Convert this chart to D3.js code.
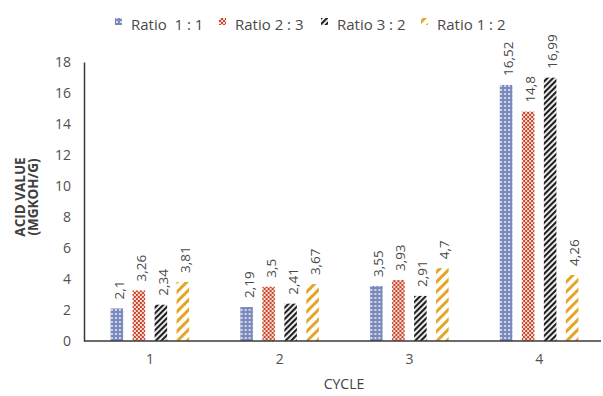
<!DOCTYPE html>
<html>
<head>
<meta charset="utf-8">
<script src="https://cdn.jsdelivr.net/npm/d3@7"></script>
<style>
  html, body { margin: 0; padding: 0; background: #fff; }
  svg { display: block; font-family: "Open Sans", sans-serif; }
</style>
</head>
<body>
<svg id="chart" width="603" height="396"></svg>
<script>
// Acid value per cycle for four blend ratios
const cycles = ["1", "2", "3", "4"];
const seriesNames = ["Ratio  1 : 1", "Ratio 2 : 3", "Ratio 3 : 2", "Ratio 1 : 2"];
const ratio11 = [2.1, 2.19, 3.55, 16.52];
const ratio23 = [3.26, 3.5, 3.93, 14.8];
const ratio32 = [2.34, 2.41, 2.91, 16.99];
const ratio12 = [3.81, 3.67, 4.7, 4.26];
const yTicks = [0, 2, 4, 6, 8, 10, 12, 14, 16, 18];

const series = [ratio11, ratio23, ratio32, ratio12];
const patternIds = ["pGrid", "pCheck", "pStripeDark", "pStripeGold"];
const FONT = "'Open Sans', sans-serif";

const svg = d3.select("#chart");
const defs = svg.append("defs");

// blue grid fill
{
  const p = defs.append("pattern").attr("id", "pGrid").attr("patternUnits", "userSpaceOnUse")
    .attr("width", 4).attr("height", 4);
  p.append("rect").attr("width", 4).attr("height", 4).attr("fill", "#7a88bb");
  p.append("rect").attr("x", 1).attr("y", 1).attr("width", 2).attr("height", 2).attr("fill", "#d3d8ea");
}
// red checker fill
{
  const p = defs.append("pattern").attr("id", "pCheck").attr("patternUnits", "userSpaceOnUse")
    .attr("width", 4).attr("height", 4);
  p.append("rect").attr("width", 4).attr("height", 4).attr("fill", "#f6ddd4");
  p.append("rect").attr("x", 0).attr("y", 0).attr("width", 2).attr("height", 2).attr("fill", "#c9452b");
  p.append("rect").attr("x", 2).attr("y", 2).attr("width", 2).attr("height", 2).attr("fill", "#c9452b");
}
// dark diagonal stripes
{
  const p = defs.append("pattern").attr("id", "pStripeDark").attr("patternUnits", "userSpaceOnUse")
    .attr("width", 4).attr("height", 4).attr("patternTransform", "rotate(-45)");
  p.append("rect").attr("width", 4).attr("height", 4).attr("fill", "#ffffff");
  p.append("rect").attr("width", 4).attr("height", 2.2).attr("fill", "#1e1e1e");
}
// gold diagonal stripes
{
  const p = defs.append("pattern").attr("id", "pStripeGold").attr("patternUnits", "userSpaceOnUse")
    .attr("width", 7).attr("height", 7).attr("patternTransform", "rotate(-45)");
  p.append("rect").attr("width", 7).attr("height", 7).attr("fill", "#ffffff");
  p.append("rect").attr("width", 7).attr("height", 3).attr("fill", "#e5a526");
}

const x0 = d3.scaleBand().domain(cycles).range([85, 604]);
// bars within a cycle: step 22px, width 12.5px
const x1 = d3.scaleBand().domain(d3.range(4)).range([-44, 44]).paddingInner(0.43).paddingOuter(0.215);
const y = d3.scaleLinear().domain([0, 18]).range([341, 62]);

// y axis
const yAxis = svg.append("g").attr("transform", "translate(84,0)")
  .call(d3.axisLeft(y).tickValues(yTicks).tickSize(0).tickPadding(13));
yAxis.select(".domain").attr("stroke", "#3a3a3a").attr("stroke-width", 1.5);
yAxis.selectAll("text").attr("font-size", 14).attr("fill", "#505050").attr("font-family", FONT);

// bars and value labels
const groups = svg.append("g").selectAll("g").data(cycles).join("g")
  .attr("transform", d => `translate(${x0(d) + x0.bandwidth() / 2},0)`);

groups.each(function (c, ci) {
  const g = d3.select(this);
  series.forEach((vals, si) => {
    const v = vals[ci];
    g.append("rect")
      .attr("x", x1(si))
      .attr("y", y(v))
      .attr("width", x1.bandwidth())
      .attr("height", y(0) - y(v))
      .attr("fill", `url(#${patternIds[si]})`);
    const cx = x1(si) + x1.bandwidth() / 2;
    g.append("text")
      .attr("transform", `translate(${cx + 7},${y(v) - 9}) rotate(-90)`)
      .attr("font-size", 13.5).attr("fill", "#4a4a4a").attr("font-family", FONT)
      .text(String(v).replace(".", ","));
  });
});

// x axis
const xAxis = svg.append("g").attr("transform", "translate(0,341)")
  .call(d3.axisBottom(x0).tickSize(0).tickPadding(13));
xAxis.select(".domain").attr("stroke", "#3a3a3a").attr("stroke-width", 1.5).attr("d", "M84,0H601");
xAxis.selectAll("text").attr("font-size", 14).attr("fill", "#505050").attr("font-family", FONT);

// axis titles
svg.append("text").attr("transform", "translate(25,197) rotate(-90)")
  .attr("text-anchor", "middle").attr("font-size", 13.5).attr("font-weight", "bold").attr("fill", "#404040")
  .text("ACID VALUE");
svg.append("text").attr("transform", "translate(37.5,197) rotate(-90)")
  .attr("text-anchor", "middle").attr("font-size", 13.5).attr("font-weight", "bold").attr("fill", "#404040")
  .text("(MGKOH/G)");
svg.append("text").attr("x", 344).attr("y", 389)
  .attr("text-anchor", "middle").attr("font-size", 14).attr("fill", "#404040")
  .text("CYCLE");

// legend
const legendX = [115, 219, 321, 421];
const legend = svg.append("g").selectAll("g").data(seriesNames).join("g")
  .attr("transform", (d, i) => `translate(${legendX[i]},0)`);
legend.append("rect").attr("x", 0).attr("y", 18).attr("width", 7).attr("height", 7)
  .attr("fill", (d, i) => `url(#${patternIds[i]})`);
legend.append("text").attr("x", 16).attr("y", 29.5).attr("font-size", 15).attr("fill", "#4a4a4a")
  .style("white-space", "pre")
  .text(d => d);
</script>
</body>
</html>
